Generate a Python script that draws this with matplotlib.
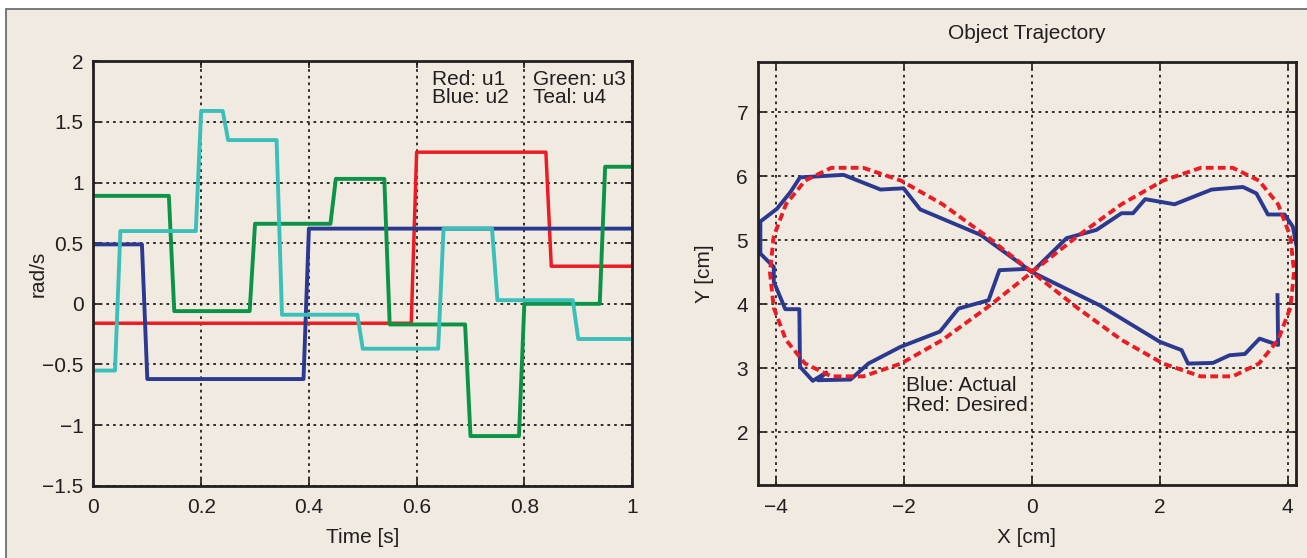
import matplotlib.pyplot as plt
from matplotlib.patches import Rectangle

plt.rcParams['font.family'] = ['Liberation Sans', 'DejaVu Sans']

# ---- left panel: control inputs ----
t_u1 = [0, 0.59, 0.60, 0.84, 0.85, 1.0]
u1 = [-0.16, -0.16, 1.25, 1.25, 0.31, 0.31]

t_u2 = [0, 0.09, 0.10, 0.39, 0.40, 1.0]
u2 = [0.49, 0.49, -0.62, -0.62, 0.62, 0.62]

t_u3 = [0, 0.14, 0.15, 0.29, 0.30, 0.44, 0.45, 0.54, 0.55, 0.69, 0.70, 0.79, 0.80, 0.94, 0.95, 1.0]
u3 = [0.89, 0.89, -0.06, -0.06, 0.66, 0.66, 1.03, 1.03, -0.17, -0.17, -1.09, -1.09, 0.0, 0.0, 1.13, 1.13]

t_u4 = [0, 0.04, 0.05, 0.19, 0.20, 0.24, 0.25, 0.34, 0.35, 0.49, 0.50, 0.64, 0.65, 0.74, 0.75, 0.89, 0.90, 1.0]
u4 = [-0.55, -0.55, 0.60, 0.60, 1.59, 1.59, 1.35, 1.35, -0.09, -0.09, -0.37, -0.37, 0.62, 0.62, 0.03, 0.03, -0.29, -0.29]

left_xticks = [0, 0.2, 0.4, 0.6, 0.8, 1]
left_xlabels = ['0', '0.2', '0.4', '0.6', '0.8', '1']
left_yticks = [-1.5, -1, -0.5, 0, 0.5, 1, 1.5, 2]
left_ylabels = ['\u22121.5', '\u22121', '\u22120.5', '0', '0.5', '1', '1.5', '2']

# ---- right panel: object trajectory ----
x_desired = [0, 0.71, 1.40, 2.05, 2.64, 3.14, 3.55, 3.85, 4.04, 4.10, 4.04, 3.85, 3.55, 3.14, 2.64, 2.05, 1.40, 0.71,
             0, -0.71, -1.40, -2.05, -2.64, -3.14, -3.55, -3.85, -4.04, -4.10, -4.04, -3.85, -3.55, -3.14, -2.64,
             -2.05, -1.40, -0.71, 0]
y_desired = [4.50, 5.06, 5.56, 5.93, 6.13, 6.13, 5.93, 5.56, 5.06, 4.50, 3.94, 3.44, 3.07, 2.87, 2.87, 3.07, 3.44, 3.94,
             4.50, 5.06, 5.56, 5.93, 6.13, 6.13, 5.93, 5.56, 5.06, 4.50, 3.94, 3.44, 3.07, 2.87, 2.87, 3.07, 3.44,
             3.94, 4.50]

x_actual = [3.84, 3.85, 3.56, 3.33, 3.09, 2.83, 2.44, 2.34, 2.00, 1.06, 0, -0.80, -1.75, -2.01, -2.37, -2.95, -3.63,
            -3.78, -3.99, -4.25, -4.25, -4.04, -4.04, -3.86, -3.64, -3.63, -3.43, -3.22, -3.35, -2.84, -2.56, -2.06,
            -1.44, -1.15, -0.68, -0.51, -0.08, 0, 0.54, 1.01, 1.40, 1.58, 1.77, 2.23, 2.81, 3.30, 3.51, 3.69, 3.95,
            4.08, 4.14, 4.20]
y_actual = [4.14, 3.36, 3.46, 3.22, 3.20, 3.08, 3.07, 3.28, 3.41, 3.98, 4.50, 5.08, 5.48, 5.81, 5.79, 6.02, 5.98,
            5.75, 5.49, 5.29, 4.79, 4.58, 4.35, 3.92, 3.92, 3.02, 2.80, 2.93, 2.81, 2.82, 3.07, 3.33, 3.57, 3.93,
            4.06, 4.53, 4.55, 4.50, 5.03, 5.16, 5.42, 5.42, 5.64, 5.56, 5.79, 5.83, 5.73, 5.40, 5.40, 5.21, 4.90,
            4.50]

right_xticks = [-4, -2, 0, 2, 4]
right_xlabels = ['\u22124', '\u22122', '0', '2', '4']
right_yticks = [2, 3, 4, 5, 6, 7]
right_ylabels = ['2', '3', '4', '5', '6', '7']

bg = '#f0eae0'
ink = '#231f20'
fs = 15

fig = plt.figure(figsize=(13.07, 5.58), dpi=100, facecolor='white')
fig.patches.append(Rectangle((6 / 1307, -0.02), 1.0, 1 - 8.5 / 558 + 0.02, transform=fig.transFigure,
                             facecolor=bg, edgecolor='#6d6e71', lw=1.3, zorder=-10))

ax1 = fig.add_axes([0.0715, 0.1294, 0.4121, 0.7609])
ax2 = fig.add_axes([0.5798, 0.1306, 0.4118, 0.7590])


def style(ax):
    ax.set_facecolor(bg)
    for s in ax.spines.values():
        s.set_linewidth(2.0)
        s.set_color(ink)
    ax.grid(True, color=ink, linestyle=(0, (1.5, 2.2)), linewidth=1.3)
    ax.tick_params(direction='in', length=5, width=1.2, colors=ink, labelsize=fs, pad=7,
                   top=True, right=True)
    ax.tick_params(axis='x', pad=9)
    for lab in ax.get_xticklabels() + ax.get_yticklabels():
        lab.set_color(ink)


# left panel
ax1.plot(t_u1, u1, color='#ed1c24', lw=2.5)
ax1.plot(t_u2, u2, color='#2b3990', lw=2.8)
ax1.plot(t_u3, u3, color='#0b9446', lw=2.8)
ax1.plot(t_u4, u4, color='#3bbfba', lw=2.8)
ax1.set_xlim(0, 1)
ax1.set_ylim(-1.5, 2)
ax1.set_xticks(left_xticks, left_xlabels)
ax1.set_yticks(left_yticks, left_ylabels)
style(ax1)
ax1.set_xlabel('Time [s]', fontsize=fs, color=ink, labelpad=8)
ax1.set_ylabel('rad/s', fontsize=fs, color=ink, labelpad=-4)
ax1.text(0.629, 1.93, 'Red: u1\nBlue: u2', fontsize=fs, color=ink, va='top', ha='left', linespacing=0.98)
ax1.text(0.816, 1.93, 'Green: u3\nTeal: u4', fontsize=fs, color=ink, va='top', ha='left', linespacing=0.98)

# right panel
ax2.plot(x_actual, y_actual, color='#2b3990', lw=2.8)
ax2.plot(x_desired, y_desired, color='#ed1c24', lw=2.8, linestyle=(0, (2.0, 1.1)))
ax2.set_xlim(-4.29, 4.13)
ax2.set_ylim(1.17, 7.79)
ax2.set_xticks(right_xticks, right_xlabels)
ax2.set_yticks(right_yticks, right_ylabels)
style(ax2)
ax2.set_xlabel('X [cm]', fontsize=fs, color=ink, labelpad=8)
ax2.set_ylabel('Y [cm]', fontsize=fs, color=ink, labelpad=16)
ax2.set_title('Object Trajectory', fontsize=fs, color=ink, pad=16)
ax2.text(-1.97, 2.88, 'Blue: Actual\nRed: Desired', fontsize=fs, color=ink, va='top', ha='left', linespacing=1.08)

fig.savefig('out.png', dpi=100, facecolor=fig.get_facecolor())
